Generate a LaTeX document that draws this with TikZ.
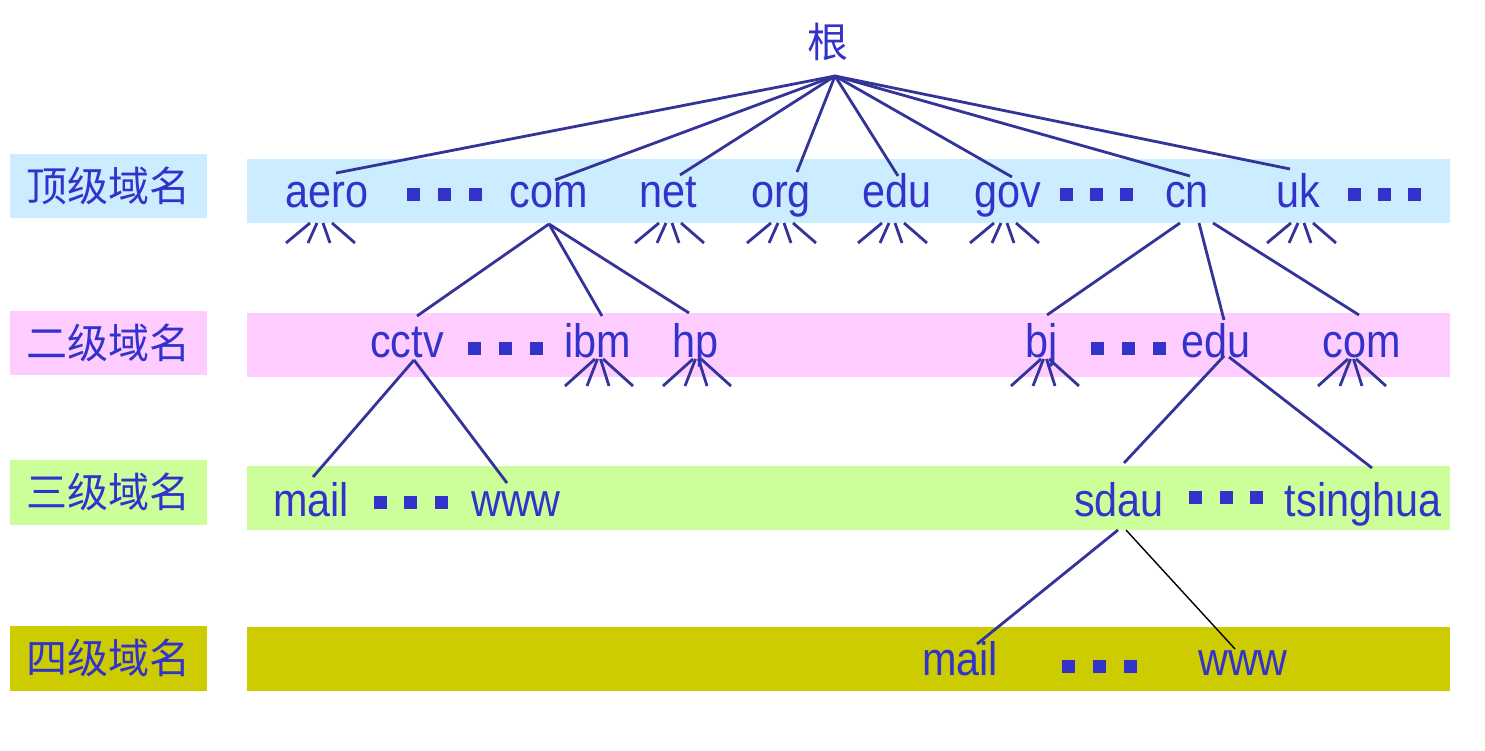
\documentclass[tikz,border=0pt]{standalone}
\usepackage{fontspec}
\setmainfont[FakeStretch=0.88]{Liberation Sans}
\newfontfamily\cjk{Noto Sans CJK SC}
\definecolor{txt}{HTML}{3333CC}
\definecolor{ln}{HTML}{333399}
\definecolor{bandA}{HTML}{CCECFF}
\definecolor{bandB}{HTML}{FFCCFF}
\definecolor{bandC}{HTML}{CCFF99}
\definecolor{bandD}{HTML}{CCCC00}
\tikzset{
  lat/.style={anchor=base,text=txt,inner sep=0pt,font=\fontsize{47}{50}\selectfont},
  lab/.style={text=txt,inner sep=0pt,font=\cjk\fontsize{41}{44}\selectfont},
  edge/.style={draw=ln,line width=2.8pt},
  thinedge/.style={draw=black,line width=1.4pt},
  sq/.style={fill=txt,draw=none,minimum size=13pt,inner sep=0pt,rectangle},
}
\newcommand\fanA[2]{%
  \draw[edge] (#1-10,#2) -- (#1-34,#2+20);
  \draw[edge] (#1-3,#2) -- (#1-12,#2+20);
  \draw[edge] (#1+3,#2) -- (#1+10,#2+20);
  \draw[edge] (#1+12,#2) -- (#1+35,#2+20);}
\newcommand\fanB[2]{%
  \draw[edge] (#1-4,#2) -- (#1-34,#2+27);
  \draw[edge] (#1-1.5,#2) -- (#1-12,#2+27);
  \draw[edge] (#1+1.5,#2) -- (#1+10,#2+27);
  \draw[edge] (#1+4,#2) -- (#1+34,#2+27);}
\begin{document}
\begin{tikzpicture}[x=1pt,y=-1pt]
\useasboundingbox (0,0) rectangle (1485,751);
% bands
\fill[bandA] (10,154) rectangle (207,218);
\fill[bandB] (10,311) rectangle (207,375);
\fill[bandC] (10,460) rectangle (207,525);
\fill[bandD] (10,626) rectangle (207,691);
\fill[bandA] (247,159) rectangle (1450,223);
\fill[bandB] (247,313) rectangle (1450,377);
\fill[bandC] (247,466) rectangle (1450,530);
\fill[bandD] (247,627) rectangle (1450,691);
% left labels
\node[lab] (l1) at (108,186) {顶级域名};
\node[lab] (l2) at (108,343) {二级域名};
\node[lab] (l3) at (108,492) {三级域名};
\node[lab] (l4) at (108,658) {四级域名};
% root
\node[lab] (root) at (828,42) {根};
\coordinate (r) at (835,76);
% level 1
\node[lat] (aero) at (327,208) {aero};
\node[lat] (com) at (549,208) {com};
\node[lat] (net) at (668,208) {net};
\node[lat] (org) at (781,208) {org};
\node[lat] (edu) at (897,208) {edu};
\node[lat] (gov) at (1008,208) {gov};
\node[lat] (cn) at (1187,208) {cn};
\node[lat] (uk) at (1298,208) {uk};
% level 2
\node[lat] (cctv) at (407,357) {cctv};
\node[lat] (ibm) at (598,357) {ibm};
\node[lat] (hp) at (695,357) {hp};
\node[lat] (bj) at (1042,357) {bj};
\node[lat] (edu2) at (1216,357) {edu};
\node[lat] (com2) at (1362,357) {com};
% level 3
\node[lat] (mail3) at (311,516) {mail};
\node[lat] (www3) at (516,516) {www};
\node[lat] (sdau) at (1119,516) {sdau};
\node[lat] (tsing) at (1363,516) {tsinghua};
% level 4
\node[lat] (mail4) at (960,675) {mail};
\node[lat] (www4) at (1243,675) {www};
% dots
\foreach \x in {413,444,475,1066,1096,1126,1354,1384,1414} \node[sq] at (\x,195) {};
\foreach \x in {474,505,536,1097,1128,1159} \node[sq] at (\x,348) {};
\foreach \x in {380,410,441} \node[sq] at (\x,502) {};
\foreach \x in {1195,1226,1256} \node[sq] at (\x,497) {};
\foreach \x in {1068,1099,1130} \node[sq] at (\x,666) {};
% endpoints
\coordinate (aeroT) at (336,173);
\coordinate (comT) at (555,180);
\coordinate (netT) at (680,175);
\coordinate (orgT) at (797,172);
\coordinate (eduT) at (898,176);
\coordinate (govT) at (1012,177);
\coordinate (cnT) at (1190,176);
\coordinate (ukT) at (1290,169);
\foreach \t in {aeroT,comT,netT,orgT,eduT,govT,cnT,ukT} \draw[edge] (r) -- (\t);
% com children
\coordinate (comB) at (549,224);
\coordinate (cctvT) at (417,316);
\coordinate (ibmT) at (602,316);
\coordinate (hpT) at (689,313);
\draw[edge] (comB) -- (cctvT);
\draw[edge] (comB) -- (ibmT);
\draw[edge] (comB) -- (hpT);
% cn children
\coordinate (cnB1) at (1180,223);
\coordinate (cnB2) at (1199,223);
\coordinate (cnB3) at (1213,223);
\coordinate (bjT) at (1047,315);
\coordinate (edu2T) at (1224,320);
\coordinate (com2T) at (1359,315);
\draw[edge] (cnB1) -- (bjT);
\draw[edge] (cnB2) -- (edu2T);
\draw[edge] (cnB3) -- (com2T);
% cctv children
\coordinate (cctvB) at (414,360);
\coordinate (mail3T) at (313,477);
\coordinate (www3T) at (507,483);
\draw[edge] (cctvB) -- (mail3T);
\draw[edge] (cctvB) -- (www3T);
% edu2 children
\coordinate (edu2B1) at (1224,356);
\coordinate (edu2B2) at (1229,357);
\coordinate (sdauT) at (1124,463);
\coordinate (tsingT) at (1372,468);
\draw[edge] (edu2B1) -- (sdauT);
\draw[edge] (edu2B2) -- (tsingT);
% sdau children
\coordinate (sdauB1) at (1118,530);
\coordinate (sdauB2) at (1126,530);
\coordinate (mail4T) at (977,644);
\coordinate (www4T) at (1235,649);
\draw[edge] (sdauB1) -- (mail4T);
\draw[thinedge] (sdauB2) -- (www4T);
% fans
\fanA{320}{223}
\fanA{669}{223}
\fanA{781}{223}
\fanA{892}{223}
\fanA{1004}{223}
\fanA{1301}{223}
\fanB{599}{359}
\fanB{697}{359}
\fanB{1045}{359}
\fanB{1352}{359}
\end{tikzpicture}
\end{document}
